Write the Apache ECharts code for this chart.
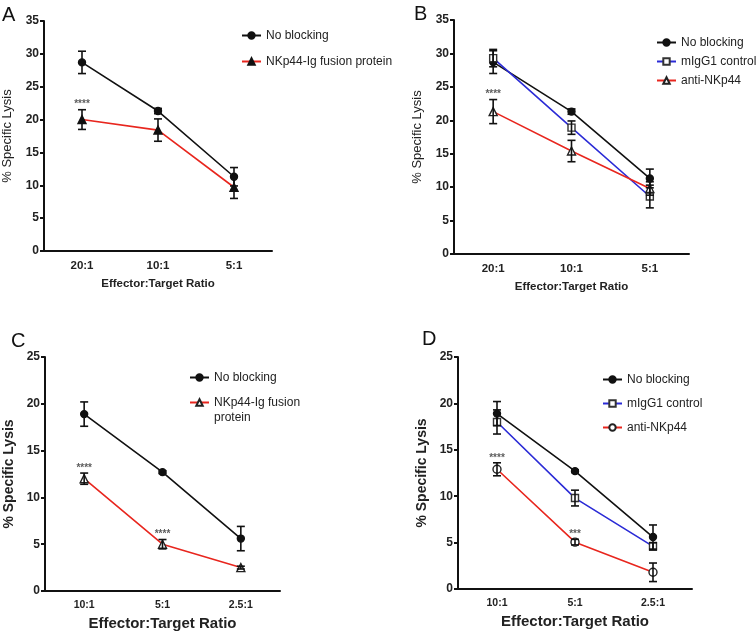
<!DOCTYPE html>
<html><head><meta charset="utf-8">
<script src="https://cdn.jsdelivr.net/npm/echarts@6/dist/echarts.min.js"></script>
<style>html,body{margin:0;padding:0;background:#fff}#c{width:756px;height:632px}</style>
</head><body><div id="c"></div>
<script>
// ---- categories ----
const catsAB = ['20:1', '10:1', '5:1'];
const catsCD = ['10:1', '5:1', '2.5:1'];
// ---- y axis ranges ----
const yMaxAB = 35, yMaxCD = 25, yStep = 5;
// ---- Panel A ----
const A_noBlock = [28.7, 21.3, 11.3];
const A_noBlockErr = [1.7, 0.4, 1.4];
const A_fusion = [20.0, 18.4, 9.7];
const A_fusionErr = [1.5, 1.7, 1.7];
const A_stars = ['****', '', ''];
// ---- Panel B ----
const B_noBlock = [28.7, 21.3, 11.3];
const B_noBlockErr = [1.7, 0.4, 1.4];
const B_mIgG1 = [29.3, 18.9, 8.6];
const B_mIgG1Err = [1.3, 1.0, 1.7];
const B_anti = [21.3, 15.4, 9.8];
const B_antiErr = [1.8, 1.6, 1.0];
const B_stars = ['****', '', ''];
// ---- Panel C ----
const C_noBlock = [18.9, 12.7, 5.6];
const C_noBlockErr = [1.3, 0.15, 1.3];
const C_fusion = [12.0, 5.0, 2.5];
const C_fusionErr = [0.6, 0.5, 0.15];
const C_stars = ['****', '****', ''];
// ---- Panel D ----
const D_noBlock = [18.9, 12.7, 5.6];
const D_noBlockErr = [1.3, 0.15, 1.3];
const D_mIgG1 = [18.0, 9.8, 4.6];
const D_mIgG1Err = [1.3, 0.85, 0.4];
const D_anti = [12.9, 5.05, 1.8];
const D_antiErr = [0.7, 0.3, 1.0];
const D_stars = ['****', '***', ''];

const FONT = 'Liberation Sans, Arial, Helvetica, sans-serif';
const BLACK = '#111', RED = '#e8261e', BLUE = '#2b2bd6';

const grids = [
  {left: 43, top: 21, width: 229, height: 230},
  {left: 454, top: 20, width: 235, height: 234},
  {left: 45, top: 357, width: 235, height: 234},
  {left: 458, top: 357, width: 234, height: 232}
];
const big = [false, false, true, true];
const cats = [catsAB, catsAB, catsCD, catsCD];
const ymax = [yMaxAB, yMaxAB, yMaxCD, yMaxCD];

const xAxes = grids.map((g, i) => ({
  type: 'category', gridIndex: i, data: cats[i], boundaryGap: true,
  axisLine: {lineStyle: {color: BLACK, width: 2}},
  axisTick: {alignWithLabel: true, length: 5, lineStyle: {width: 2, color: BLACK}},
  axisLabel: {color: '#222', fontWeight: 'bold', fontSize: big[i] ? 10.5 : 11.5, margin: 9, fontFamily: FONT},
  name: 'Effector:Target Ratio', nameLocation: 'middle',
  nameGap: big[i] ? 25 : 27,
  nameTextStyle: {color: '#222', fontWeight: 'bold', fontSize: big[i] ? 15 : 11.5, fontFamily: FONT}
}));
const yAxes = grids.map((g, i) => ({
  type: 'value', gridIndex: i, min: 0, max: ymax[i], interval: yStep,
  splitLine: {show: false},
  axisLine: {show: true, lineStyle: {color: BLACK, width: 2}},
  axisTick: {show: true, length: 4, lineStyle: {width: 2, color: BLACK}},
  axisLabel: {color: '#222', fontWeight: 'bold', fontSize: 12, margin: 5, fontFamily: FONT},
  name: '% Specific Lysis', nameLocation: 'middle', nameRotate: 90,
  nameGap: big[i] ? 29 : 30,
  nameTextStyle: {color: '#222', fontWeight: big[i] ? 'bold' : 'normal', fontSize: big[i] ? 14 : 13, fontFamily: FONT}
}));

function lineS(gi, name, vals, lineColor, symbol, fill, border, size) {
  return {
    type: 'line', name: name, xAxisIndex: gi, yAxisIndex: gi, data: vals,
    symbol: symbol, symbolSize: size, showSymbol: true, z: 3,
    lineStyle: {color: lineColor, width: 1.6},
    itemStyle: {color: fill, borderColor: border, borderWidth: 1.4},
    emphasis: {disabled: true}, animation: false
  };
}
function errS(gi, vals, errs) {
  return {
    type: 'custom', xAxisIndex: gi, yAxisIndex: gi, silent: true, z: 4, animation: false,
    data: vals.map((v, i) => [i, v - errs[i], v + errs[i]]),
    encode: {x: 0, y: [1, 2]},
    renderItem: (params, api) => {
      const lo = api.coord([api.value(0), api.value(1)]);
      const hi = api.coord([api.value(0), api.value(2)]);
      const w = 4;
      const st = {stroke: BLACK, lineWidth: 1.6};
      return {type: 'group', children: [
        {type: 'line', shape: {x1: lo[0], y1: lo[1], x2: hi[0], y2: hi[1]}, style: st},
        {type: 'line', shape: {x1: lo[0] - w, y1: lo[1], x2: lo[0] + w, y2: lo[1]}, style: st},
        {type: 'line', shape: {x1: hi[0] - w, y1: hi[1], x2: hi[0] + w, y2: hi[1]}, style: st}
      ]};
    }
  };
}
function starS(gi, vals, errs, stars) {
  const data = [];
  stars.forEach((s, i) => { if (s) data.push({value: [i, vals[i] + errs[i]], s: s}); });
  return {
    type: 'scatter', xAxisIndex: gi, yAxisIndex: gi, symbolSize: 0, silent: true, animation: false,
    data: data,
    label: {show: true, position: 'top', distance: 0, formatter: p => p.data.s,
      fontSize: 10, fontWeight: 'bold', color: '#333', fontFamily: FONT}
  };
}

const series = [
  // A
  lineS(0, 'A|No blocking', A_noBlock, BLACK, 'circle', BLACK, BLACK, 7),
  lineS(0, 'A|NKp44-Ig fusion protein', A_fusion, RED, 'triangle', BLACK, BLACK, 8),
  errS(0, A_noBlock, A_noBlockErr), errS(0, A_fusion, A_fusionErr),
  starS(0, A_fusion, A_fusionErr, A_stars),
  // B
  lineS(1, 'B|No blocking', B_noBlock, BLACK, 'circle', BLACK, BLACK, 7),
  lineS(1, 'B|mIgG1 control', B_mIgG1, BLUE, 'rect', '#fff', '#333', 7),
  lineS(1, 'B|anti-NKp44', B_anti, RED, 'triangle', '#fff', '#222', 8),
  errS(1, B_noBlock, B_noBlockErr), errS(1, B_mIgG1, B_mIgG1Err), errS(1, B_anti, B_antiErr),
  starS(1, B_anti, B_antiErr, B_stars),
  // C
  lineS(2, 'C|No blocking', C_noBlock, BLACK, 'circle', BLACK, BLACK, 7),
  lineS(2, 'C|NKp44-Ig fusion protein', C_fusion, RED, 'triangle', '#fff', '#222', 8),
  errS(2, C_noBlock, C_noBlockErr), errS(2, C_fusion, C_fusionErr),
  starS(2, C_fusion, C_fusionErr, C_stars),
  // D
  lineS(3, 'D|No blocking', D_noBlock, BLACK, 'circle', BLACK, BLACK, 7),
  lineS(3, 'D|mIgG1 control', D_mIgG1, BLUE, 'rect', '#fff', '#333', 7),
  lineS(3, 'D|anti-NKp44', D_anti, RED, 'circle', '#fff', '#222', 8),
  errS(3, D_noBlock, D_noBlockErr), errS(3, D_mIgG1, D_mIgG1Err), errS(3, D_anti, D_antiErr),
  starS(3, D_anti, D_antiErr, D_stars)
];

function legendFor(names, left, top, gap) {
  return {
    orient: 'vertical', left: left, top: top, itemGap: gap, itemWidth: 19, itemHeight: 8,
    padding: 0, selectedMode: false,
    data: names,
    formatter: n => {
      const t = n.split('|')[1];
      return (t === 'NKp44-Ig fusion protein' && n[0] === 'C') ? ' \nNKp44-Ig fusion\nprotein' : t;
    },
    textStyle: {fontSize: 12, color: '#222', fontFamily: FONT, lineHeight: 15}
  };
}

const letterStyle = {fontSize: 20, fontWeight: 'normal', color: '#111', fontFamily: FONT};
const option = {
  animation: false,
  backgroundColor: '#fff',
  textStyle: {fontFamily: FONT},
  title: [
    {text: 'A', left: 2, top: 5, padding: 0, textStyle: letterStyle},
    {text: 'B', left: 414, top: 4, padding: 0, textStyle: letterStyle},
    {text: 'C', left: 11, top: 331, padding: 0, textStyle: letterStyle},
    {text: 'D', left: 422, top: 329, padding: 0, textStyle: letterStyle}
  ],
  legend: [
    legendFor(['A|No blocking', 'A|NKp44-Ig fusion protein'], 241, 28, 11),
    legendFor(['B|No blocking', 'B|mIgG1 control', 'B|anti-NKp44'], 656, 35, 4),
    legendFor(['C|No blocking', 'C|NKp44-Ig fusion protein'], 189, 370, -5),
    legendFor(['D|No blocking', 'D|mIgG1 control', 'D|anti-NKp44'], 602, 372, 9)
  ],
  grid: grids,
  xAxis: xAxes,
  yAxis: yAxes,
  series: series
};
const chart = echarts.init(document.getElementById('c'), null, {renderer: 'canvas'});
chart.setOption(option);
</script></body></html>
